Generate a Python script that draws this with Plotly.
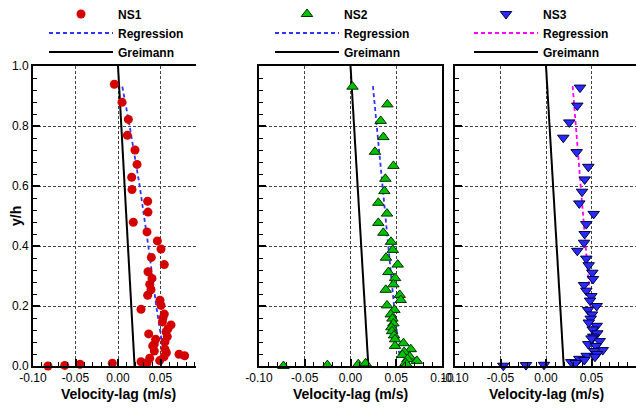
import plotly.graph_objects as go

W, H = 636, 408

# ---------------- data ----------------
ns1_v = [-0.0043, 0.0047, 0.0122, 0.0110, 0.0200, 0.0224, 0.0161, 0.0165, 0.0349, 0.0353,
         0.0180, 0.0341, 0.0463, 0.0506, 0.0392, 0.0545, 0.0353, 0.0400, 0.0373, 0.0388,
         0.0349, 0.0494, 0.0506, 0.0545, 0.0271, 0.0529, 0.0522, 0.0624, 0.0588, 0.0565,
         0.0361, 0.0580, 0.0443, 0.0553, 0.0427, 0.0408, 0.0553, 0.0427, 0.0569, 0.0718,
         0.0784, 0.0541, 0.0373, 0.0490, 0.0271, 0.0341, -0.0067, -0.0447, -0.0627, -0.0824]
ns1_y = [0.939, 0.879, 0.822, 0.769, 0.720, 0.672, 0.629, 0.588, 0.549, 0.513,
         0.479, 0.447, 0.417, 0.390, 0.362, 0.338, 0.314, 0.292, 0.272, 0.254,
         0.236, 0.219, 0.202, 0.173, 0.189, 0.160, 0.147, 0.137, 0.124, 0.114,
         0.107, 0.098, 0.089, 0.081, 0.073, 0.067, 0.056, 0.050, 0.044, 0.039,
         0.034, 0.031, 0.026, 0.018, 0.014, 0.010, 0.009, 0.006, 0.002, 0.000]

ns2_v = [0.0022, 0.0403, 0.0330, 0.0359, 0.0267, 0.0469, 0.0381, 0.0370, 0.0304, 0.0399,
         0.0304, 0.0359, 0.0443, 0.0462, 0.0388, 0.0516, 0.0414, 0.0487, 0.0469, 0.0385,
         0.0538, 0.0549, 0.0399, 0.0480, 0.0440, 0.0458, 0.0469, 0.0447, 0.0454, 0.0476,
         0.0487, 0.0579, 0.0487, 0.0659, 0.0586, 0.0568, 0.0648, 0.0623, 0.0725, 0.0601,
         0.0615, -0.0733, -0.0253, 0.0085, 0.0165]
ns2_y = [0.931, 0.872, 0.817, 0.763, 0.714, 0.667, 0.624, 0.583, 0.544, 0.508,
         0.477, 0.444, 0.414, 0.387, 0.361, 0.338, 0.313, 0.293, 0.272, 0.254,
         0.237, 0.220, 0.202, 0.187, 0.172, 0.158, 0.142, 0.129, 0.116, 0.102,
         0.089, 0.076, 0.067, 0.056, 0.047, 0.037, 0.031, 0.023, 0.017, 0.010,
         0.005, 0.000, 0.003, 0.006, 0.009]

ns3_v = [0.0374, 0.0344, 0.0256, 0.0190, 0.0337, 0.0465, 0.0425, 0.0396, 0.0366, 0.0524,
         0.0443, 0.0425, 0.0418, 0.0344, 0.0443, 0.0469, 0.0509, 0.0516, 0.0418, 0.0443,
         0.0498, 0.0484, 0.0557, 0.0462, 0.0505, 0.0491, 0.0557, 0.0513, 0.0564, 0.0520,
         0.0590, 0.0465, 0.0549, 0.0623, 0.0527, 0.0560, 0.0447, 0.0538, 0.0366, 0.0421,
         0.0278, 0.0326, -0.0469, -0.0220, -0.0022, 0.0470, 0.0500]
ns3_y = [0.928, 0.868, 0.812, 0.761, 0.713, 0.664, 0.622, 0.581, 0.542, 0.507,
         0.473, 0.440, 0.411, 0.384, 0.358, 0.336, 0.311, 0.290, 0.270, 0.251,
         0.233, 0.218, 0.200, 0.187, 0.172, 0.158, 0.134, 0.122, 0.109, 0.098,
         0.083, 0.073, 0.067, 0.053, 0.050, 0.040, 0.034, 0.031, 0.024, 0.020,
         0.013, 0.010, 0.001, 0.003, 0.004, 0.145, 0.092]

reg1_v = [0.0051, 0.0137, 0.0255, 0.0357, 0.0450, 0.0540]
reg1_y = [0.931, 0.800, 0.600, 0.400, 0.200, 0.037]
reg2_v = [0.0245, 0.0286, 0.0348, 0.0414, 0.0476, 0.0531]
reg2_y = [0.933, 0.800, 0.600, 0.400, 0.200, 0.044]
reg3_v = [0.0293, 0.0326, 0.0381, 0.0436, 0.0491, 0.0546]
reg3_y = [0.933, 0.800, 0.600, 0.400, 0.200, 0.040]

greimann_v = [0.0, 0.0195]
greimann_y = [1.0, 0.0]

x_tickvals = [-0.10, -0.05, 0.00, 0.05, 0.10]
x_ticktext = ["-0.10", "-0.05", "0.00", "0.05", "0.10"]
y_tickvals = [0.0, 0.2, 0.4, 0.6, 0.8, 1.0]
y_ticktext = ["0.0", "0.2", "0.4", "0.6", "0.8", "1.0"]

series_names = ["NS1", "NS2", "NS3"]
x_title = "Velocity-lag (m/s)"
y_title = "y/h"

# ---------------- layout geometry (pixels) ----------------
FONT = "Liberation Sans, Arial, sans-serif"
panels = [
    dict(x0=33, x1=196, xr=[-0.10, -0.10 + 163 / 850.0], mirror_y=False),
    dict(x0=259, x1=442, xr=[-0.10, 0.10], mirror_y=True),
    dict(x0=455, x1=636, xr=[-0.10, -0.10 + 181 / 910.0], mirror_y=True),
]
y_top, y_bot = 66, 366
ydom = [(H - y_bot) / H, (H - y_top) / H]

fig = go.Figure()

pts = [
    (ns1_v, ns1_y, dict(symbol="circle", size=9, color="#d40000", line=dict(width=0))),
    (ns2_v, ns2_y, dict(symbol="triangle-up", size=10, color="#00c000", line=dict(width=1, color="#003300"))),
    (ns3_v, ns3_y, dict(symbol="triangle-down", size=10, color="#2a2aff", line=dict(width=1, color="#000044"))),
]
regs = [(reg1_v, reg1_y, "#3333ff"), (reg2_v, reg2_y, "#3333ff"), (reg3_v, reg3_y, "#ff00ff")]

for i in range(3):
    ax = "" if i == 0 else str(i + 1)
    lg = "legend" if i == 0 else f"legend{i + 1}"
    xa, ya = "x" + ax, "y" + ax
    fig.add_trace(go.Scatter(x=greimann_v, y=greimann_y, mode="lines", name="Greimann",
                             line=dict(color="black", width=2), xaxis=xa, yaxis=ya,
                             legend=lg, legendrank=3))
    fig.add_trace(go.Scatter(x=regs[i][0], y=regs[i][1], mode="lines", name="Regression",
                             line=dict(color=regs[i][2], width=1.8, dash="4px,3px"),
                             xaxis=xa, yaxis=ya, legend=lg, legendrank=2))
    fig.add_trace(go.Scatter(x=pts[i][0], y=pts[i][1], mode="markers", name=series_names[i],
                             marker=pts[i][2], xaxis=xa, yaxis=ya, legend=lg,
                             legendrank=1, cliponaxis=False))

axis_common = dict(showline=True, linecolor="black", linewidth=2, mirror=False,
                   showgrid=True, gridcolor="#444", gridwidth=1, griddash="3px,2px",
                   zeroline=False, ticks="inside", tickcolor="black", tickwidth=1.5,
                   ticklen=7, automargin=False,
                   tickfont=dict(family=FONT, size=12, color="black"))

layout = dict(width=W, height=H, margin=dict(l=0, r=0, t=0, b=0, autoexpand=False),
              paper_bgcolor="white", plot_bgcolor="white", showlegend=True,
              font=dict(family=FONT, color="black"))

legend_pos = [(44, 33), (270, 33), (469, 33)]
for i, p in enumerate(panels):
    ax = "" if i == 0 else str(i + 1)
    xaxis = dict(axis_common, domain=[p["x0"] / W, p["x1"] / W], range=p["xr"],
                 tickvals=x_tickvals, ticktext=x_ticktext, mirror=True,
                 anchor="y" + ax,
                 minor=dict(dtick=0.01, tick0=-0.1, ticks="inside", ticklen=4,
                            tickcolor="black", tickwidth=1, showgrid=False))
    yaxis = dict(axis_common, domain=ydom, range=[0, 1], tickvals=y_tickvals,
                 ticktext=y_ticktext, showticklabels=(i == 0), mirror=p["mirror_y"],
                 anchor="x" + ax,
                 minor=dict(dtick=0.04, tick0=0, ticks="inside", ticklen=4,
                            tickcolor="black", tickwidth=1, showgrid=False))
    layout["xaxis" + ax] = xaxis
    layout["yaxis" + ax] = yaxis
    lx, ly = legend_pos[i]
    layout["legend" if i == 0 else f"legend{i + 1}"] = dict(
        x=lx / W, y=(H - ly) / H, xanchor="left", yanchor="middle",
        xref="container", yref="container",
        bgcolor="rgba(0,0,0,0)", borderwidth=0, traceorder="normal",
        font=dict(family=FONT, size=12, color="black", weight="bold"),
        itemwidth=64)

annotations = []
centers = [118.5, 350.5, 546]
for c in centers:
    annotations.append(dict(text=f"<b>{x_title}</b>", x=c / W, y=(H - 394) / H,
                            xref="paper", yref="paper", showarrow=False,
                            xanchor="center", yanchor="middle",
                            font=dict(family=FONT, size=14, color="black")))
annotations.append(dict(text=f"<b>{y_title}</b>", x=16 / W, y=(H - 216) / H,
                        xref="paper", yref="paper", showarrow=False, textangle=-90,
                        xanchor="center", yanchor="middle",
                        font=dict(family=FONT, size=14, color="black")))
layout["annotations"] = annotations

fig.update_layout(**layout)
fig.write_html("out.html")
